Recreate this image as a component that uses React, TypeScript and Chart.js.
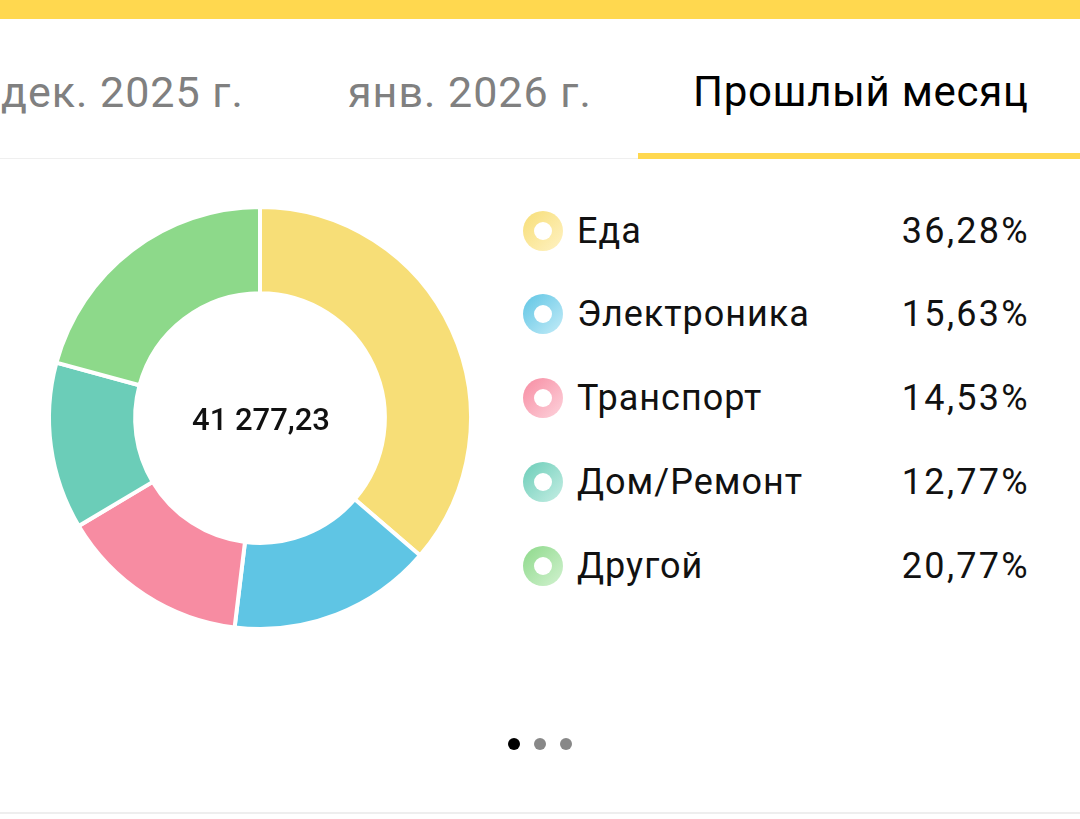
import React, { useEffect, useRef } from "react";
import { Chart, registerables } from "chart.js";

Chart.register(...registerables);

const categories = ["Еда", "Электроника", "Транспорт", "Дом/Ремонт", "Другой"];
const shares = [36.28, 15.63, 14.53, 12.77, 20.77];
const sliceColors = ["#F7DE77", "#5FC5E4", "#F78CA2", "#6BCDB8", "#8DD98A"];
const lightColors = ["#FFF2C4", "#C4ECF8", "#FDD3DC", "#C6EEE4", "#D2F2D0"];
const totalLabel = "41 277,23";
const tabs = ["дек. 2025 г.", "янв. 2026 г.", "Прошлый месяц"];

const FONT = "Roboto, 'Noto Sans', sans-serif";

function fmtPct(v: number) {
  return v.toFixed(2).replace(".", ",") + "%";
}

export default function App() {
  const canvasRef = useRef<HTMLCanvasElement | null>(null);

  useEffect(() => {
    document.body.style.margin = "0";
    const centerText = {
      id: "centerText",
      afterDraw(chart: any) {
        const meta = chart.getDatasetMeta(0);
        const arc = meta.data[0];
        if (!arc) return;
        const ctx = chart.ctx;
        ctx.save();
        ctx.font = `500 31px ${FONT}`;
        ctx.fillStyle = "#111";
        ctx.textAlign = "center";
        ctx.textBaseline = "middle";
        ctx.fillText(totalLabel, arc.x + 1, arc.y + 4);
        ctx.restore();
      },
    };
    const chart = new Chart(canvasRef.current!, {
      type: "doughnut",
      data: {
        labels: categories,
        datasets: [
          {
            data: shares,
            backgroundColor: sliceColors,
            borderColor: "#ffffff",
            borderWidth: 4,
            hoverOffset: 0,
          },
        ],
      },
      options: {
        responsive: false,
        animation: false,
        radius: 211,
        cutout: 129,
        layout: { padding: 0 },
        plugins: {
          legend: { display: false },
          tooltip: { enabled: false },
        },
      } as any,
      plugins: [centerText],
    });
    return () => chart.destroy();
  }, []);

  const rowY = [231, 314, 398, 482, 566];

  return (
    <div
      style={{
        position: "fixed",
        left: 0,
        top: 0,
        width: 1080,
        height: 819,
        background: "#ffffff",
        overflow: "hidden",
        fontFamily: FONT,
      }}
    >
      <div style={{ position: "absolute", left: 0, top: 0, width: 1080, height: 19, background: "#FFD84F" }} />
      <div style={{ position: "absolute", left: 0, top: 158, width: 1080, height: 1, background: "#EFEFEF" }} />
      <div style={{ position: "absolute", left: 638, top: 153, width: 442, height: 6, background: "#FFD84F" }} />
      {tabs.map((t, i) => (
        <div
          key={t}
          style={{
            position: "absolute",
            top: 66,
            left: [1, 348, 693][i],
            fontSize: i === 2 ? 42 : 43,
            letterSpacing: i === 2 ? "0.7px" : "1px",
            lineHeight: "52px",
            color: i === 2 ? "#000" : "#808080",
            whiteSpace: "nowrap",
          }}
        >
          {t}
        </div>
      ))}
      <canvas
        ref={canvasRef}
        width={440}
        height={440}
        style={{ position: "absolute", left: 40, top: 198, width: 440, height: 440 }}
      />
      {categories.map((c, i) => (
        <React.Fragment key={c}>
          <div
            style={{
              position: "absolute",
              left: 523,
              top: rowY[i] - 20,
              width: 40,
              height: 40,
              borderRadius: "50%",
              background: `linear-gradient(135deg, ${sliceColors[i]} 0%, ${lightColors[i]} 100%)`,
            }}
          >
            <div
              style={{
                position: "absolute",
                left: 11,
                top: 11,
                width: 18,
                height: 18,
                borderRadius: "50%",
                background: "#fff",
              }}
            />
          </div>
          <div
            style={{
              position: "absolute",
              left: 577,
              top: rowY[i] - 24,
              fontSize: 36,
              letterSpacing: "1px",
              lineHeight: "48px",
              color: "#111",
              whiteSpace: "nowrap",
            }}
          >
            {c}
          </div>
          <div
            style={{
              position: "absolute",
              right: 1080 - 1030,
              top: rowY[i] - 24,
              fontSize: 36,
              letterSpacing: "2.3px",
              lineHeight: "48px",
              color: "#111",
              whiteSpace: "nowrap",
            }}
          >
            {fmtPct(shares[i])}
          </div>
        </React.Fragment>
      ))}
      {[0, 1, 2].map((k) => (
        <div
          key={k}
          style={{
            position: "absolute",
            left: 514 + k * 26 - 6,
            top: 744 - 6,
            width: 12,
            height: 12,
            borderRadius: "50%",
            background: k === 0 ? "#000" : "#888",
          }}
        />
      ))}
      <div style={{ position: "absolute", left: 0, top: 812, width: 1080, height: 2, background: "#EEEEEE" }} />
    </div>
  );
}
